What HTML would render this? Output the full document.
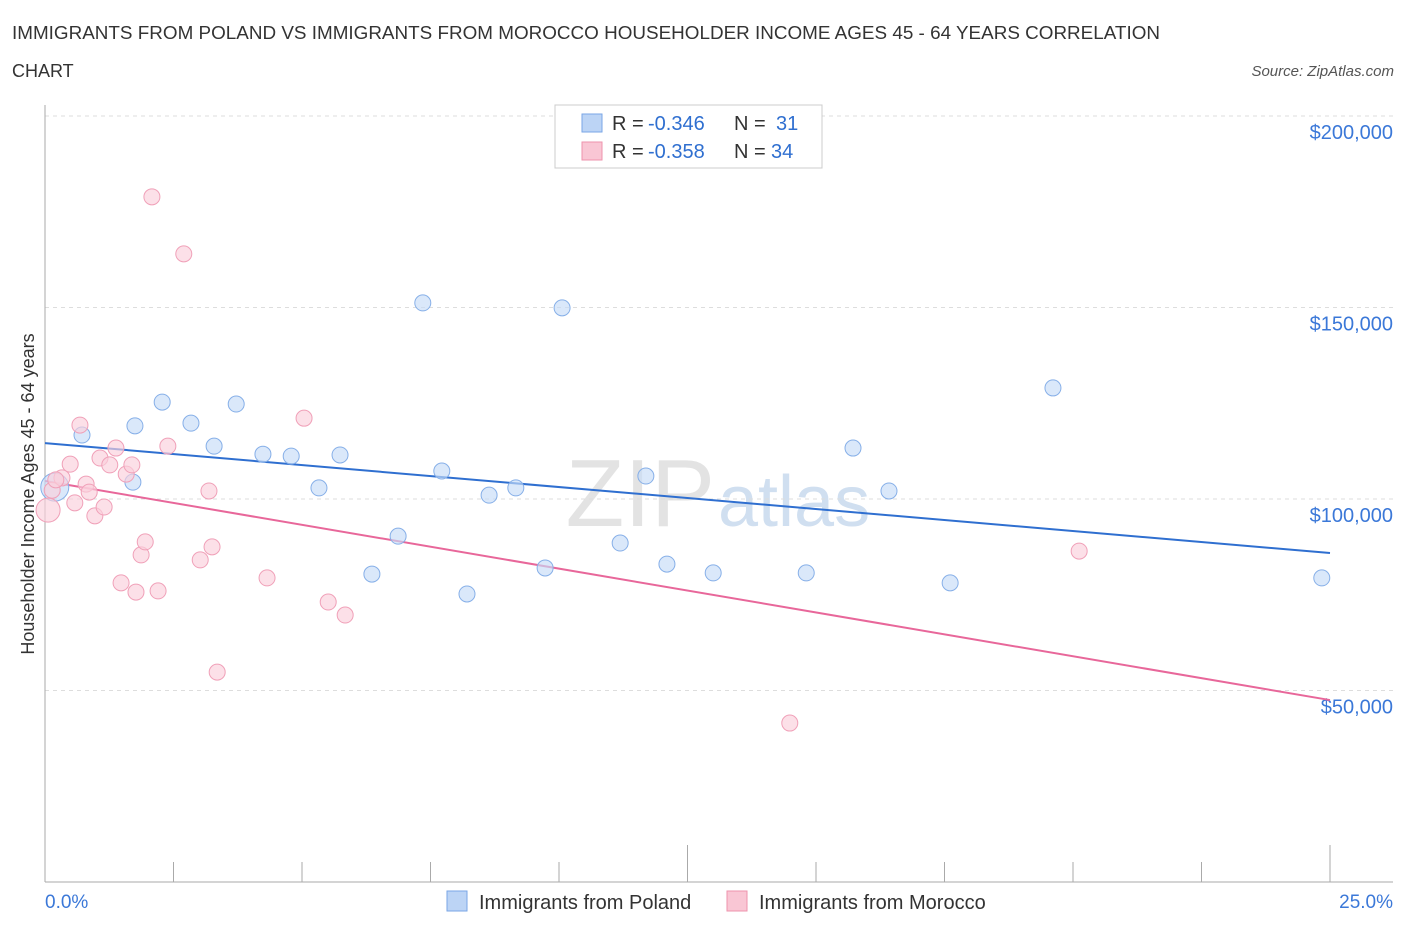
<!DOCTYPE html>
<html><head><meta charset="utf-8"><style>
body{margin:0;background:#fff;font-family:"Liberation Sans",sans-serif;}
svg text{font-family:"Liberation Sans",sans-serif;}
</style></head><body>
<svg id="chart" width="1406" height="930">
<text x="12" y="39" font-size="18" fill="#333" textLength="1148" lengthAdjust="spacingAndGlyphs">IMMIGRANTS FROM POLAND VS IMMIGRANTS FROM MOROCCO HOUSEHOLDER INCOME AGES 45 - 64 YEARS CORRELATION</text>
<text x="12" y="77" font-size="18" fill="#333">CHART</text>
<text x="1394" y="76" font-size="15" fill="#555" font-style="italic" text-anchor="end">Source: ZipAtlas.com</text>
<text x="34" y="494" font-size="18" fill="#333" text-anchor="middle" transform="rotate(-90 34 494)">Householder Income Ages 45 - 64 years</text>
<text x="715" y="526" font-size="96" fill="#e3e3e3" font-family="Liberation Serif" text-anchor="end">ZIP</text>
<text x="718" y="526" font-size="72" fill="#d0dff0">atlas</text>
<g id="grid"></g><g id="lines"></g><g id="pts"></g>
<g>
<rect x="555" y="105" width="267" height="63" fill="#fff" stroke="#ccc"/>
<rect x="582" y="114" width="20" height="18" fill="#bcd4f5" stroke="#7aa6e6"/>
<rect x="582" y="142" width="20" height="18" fill="#f9c6d4" stroke="#ee93ad"/>
<text y="130" font-size="20" fill="#333"><tspan x="612">R =</tspan><tspan x="648" fill="#2f6fd0">-0.346</tspan><tspan x="734">N =</tspan><tspan x="776" fill="#2f6fd0">31</tspan></text>
<text y="158" font-size="20" fill="#333"><tspan x="612">R =</tspan><tspan x="648" fill="#2f6fd0">-0.358</tspan><tspan x="734">N =</tspan><tspan x="771" fill="#2f6fd0">34</tspan></text>
</g>
<text x="45" y="908" font-size="19" fill="#3b78d8">0.0%</text>
<text x="1393" y="908" font-size="19" fill="#3b78d8" text-anchor="end">25.0%</text>
<rect x="447" y="891" width="20" height="20" fill="#bcd4f5" stroke="#7aa6e6"/>
<text x="479" y="909" font-size="20" fill="#333">Immigrants from Poland</text>
<rect x="727" y="891" width="20" height="20" fill="#f9c6d4" stroke="#ee93ad"/>
<text x="759" y="909" font-size="20" fill="#333">Immigrants from Morocco</text>
</svg>
<script>
const yTicks=[50,100,150,200];
const yTickLabels=["$50,000","$100,000","$150,000","$200,000"];
const polandX=[0.19,0.72,1.71,1.75,2.28,2.84,3.29,3.72,4.24,4.79,5.74,5.33,6.36,6.87,7.35,7.72,8.21,8.64,9.16,9.73,10.06,11.19,11.69,12.10,13.0,14.81,15.72,16.42,17.61,19.61,24.84];
const polandY=[103.1,116.7,104.4,119.1,125.3,119.8,113.8,124.8,111.7,111.2,111.5,102.9,80.4,90.3,151.2,107.3,75.2,101.0,102.9,82.0,149.9,88.5,106.0,83.0,80.7,80.7,113.3,102.1,78.1,129.0,79.4];
const moroccoX=[0.06,0.14,0.33,0.49,0.58,0.68,0.80,0.86,0.97,1.07,1.15,1.26,1.38,1.48,1.58,1.69,1.77,1.87,1.95,2.08,2.20,2.39,2.70,3.02,3.19,3.25,3.35,4.32,5.04,5.51,5.84,14.49,20.12,0.21];
const moroccoY=[97.1,102.3,105.5,109.1,99.0,119.3,103.9,101.8,95.6,110.7,97.9,108.9,113.3,78.1,106.5,108.9,75.7,85.4,88.8,178.9,76.0,113.8,164.0,84.1,102.1,87.5,54.8,79.4,121.1,73.1,69.7,41.5,86.4,105.0];
const polandTrend=[114.6,85.9];
const moroccoTrend=[104.7,47.5];
const X0=45,X1=1330,Y0=882;
function sx(p){return X0+p/25*(X1-X0);}
function sy(v){return Y0-v*3.83;}
const NS="http://www.w3.org/2000/svg";
function mk(t,a,parent){const e=document.createElementNS(NS,t);for(const k in a)e.setAttribute(k,a[k]);document.getElementById(parent).appendChild(e);return e;}
yTicks.forEach((v,i)=>{
 const l=mk('line',{x1:X0,x2:1393,y1:sy(v),y2:sy(v),stroke:'#ddd','stroke-dasharray':'4,4'},'grid');
 
 
 const t=mk('text',{x:1393,y:sy(v)+23,'font-size':20,fill:'#3b78d8','text-anchor':'end'},'grid');
 t.textContent=yTickLabels[i];
 
 
});
const ax=mk('line',{x1:X0,x2:1393,y1:Y0,y2:Y0,stroke:'#aaa'},'grid');


const ay=mk('line',{x1:X0,x2:X0,y1:105,y2:Y0,stroke:'#aaa'},'grid');


for(let i=0;i<=10;i++){
 const p=i*2.5;const long=(i==5||i==10);
 const tk=mk('line',{x1:sx(p),x2:sx(p),y1:long?845:862,y2:Y0,stroke:'#aaa'},'grid');
 
 
}
const tl1=mk('line',{x1:sx(0),x2:sx(25),y1:sy(polandTrend[0]),y2:sy(polandTrend[1]),stroke:'#2f6fd0','stroke-width':2},'lines');


const tl2=mk('line',{x1:sx(0),x2:sx(25),y1:sy(moroccoTrend[0]),y2:sy(moroccoTrend[1]),stroke:'#e8679a','stroke-width':2},'lines');


polandX.forEach((x,i)=>{
 const c=mk('circle',{cx:sx(x),cy:sy(polandY[i]),r:i==0?14:8,fill:'#c6dbf7','fill-opacity':0.65,stroke:'#86afe8'},'pts');
 
 
});
moroccoX.forEach((x,i)=>{
 const c=mk('circle',{cx:sx(x),cy:sy(moroccoY[i]),r:i==0?12:8,fill:'#fad0dc','fill-opacity':0.65,stroke:'#f0a0b8'},'pts');
 
 
});
</script>
</body></html>
